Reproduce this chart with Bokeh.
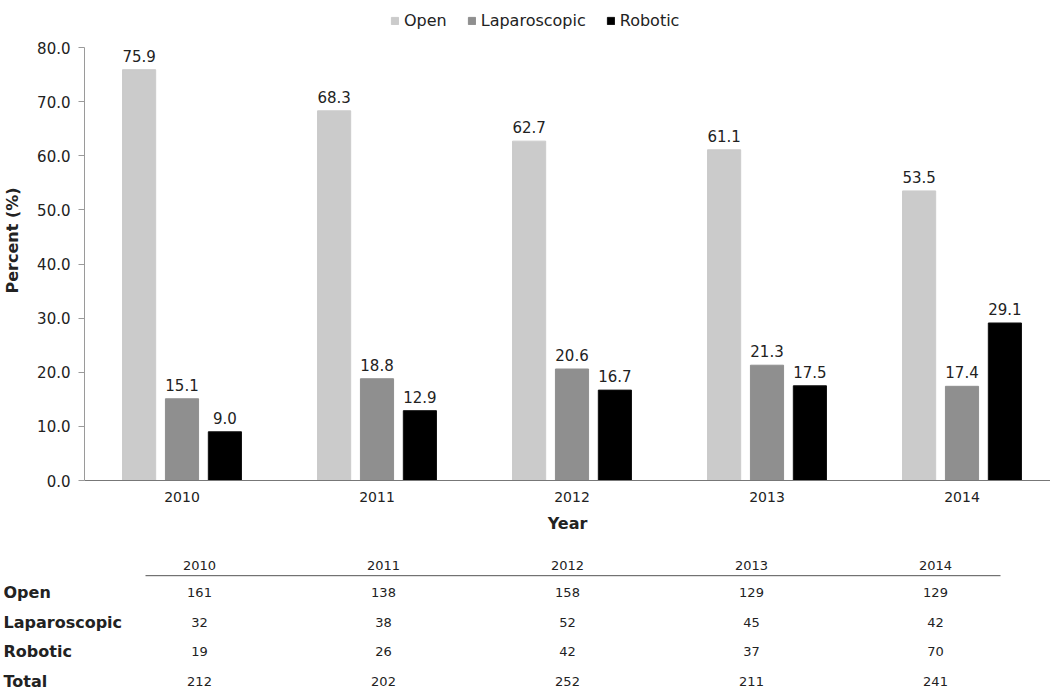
from bokeh.plotting import figure
from bokeh.models import (Range1d, FixedTicker, PrintfTickFormatter, SingleIntervalTicker,
                          Legend, LegendItem, ColumnDataSource)
from bokeh.embed import file_html
from bokeh.resources import INLINE
from bokeh.core.properties import value

# ---- data ----
years = [2010, 2011, 2012, 2013, 2014]
series = ["Open", "Laparoscopic", "Robotic"]
open_pct = [75.9, 68.3, 62.7, 61.1, 53.5]
lap_pct = [15.1, 18.8, 20.6, 21.3, 17.4]
rob_pct = [9.0, 12.9, 16.7, 17.5, 29.1]
open_n = [161, 138, 158, 129, 129]
lap_n = [32, 38, 52, 45, 42]
rob_n = [19, 26, 42, 37, 70]
total_n = [212, 202, 252, 211, 241]
row_labels = ["Open", "Laparoscopic", "Robotic", "Total"]

colors = ["#cbcbcb", "#8f8f8f", "#000000"]
FONT = "DejaVu Sans"
TXT = "#222222"
W = 1050
LEFT = 84
FW = W - LEFT
FH = 480
CAT_PX = 195.0
PX_PER_UNIT = 433.0 / 80.0

p = figure(frame_width=FW, frame_height=FH,
           x_range=Range1d(years[0] - 0.5, years[0] - 0.5 + FW / CAT_PX),
           y_range=Range1d(0, FH / PX_PER_UNIT),
           output_backend="svg", toolbar_location=None,
           min_border_left=LEFT, min_border_right=0, min_border_top=0, min_border_bottom=50)
p.outline_line_color = None
p.xgrid.visible = False
p.ygrid.visible = False

offsets = [-0.22, 0.0, 0.22]
all_pct = [open_pct, lap_pct, rob_pct]
items = []
for name, vals, off, col in zip(series, all_pct, offsets, colors):
    src = ColumnDataSource(dict(x=[y + off for y in years], top=vals,
                                lab=["%.1f" % v for v in vals]))
    r = p.vbar(x="x", top="top", width=0.17, source=src, fill_color=col,
               line_color=col if col != "#000000" else "#111111", line_width=1)
    p.text(x="x", y="top", text="lab", source=src, text_align="center",
           text_baseline="bottom", y_offset=-8, text_font=value(FONT),
           text_font_size="15px", text_color=TXT)
    items.append(LegendItem(label=name, renderers=[r]))

legend = Legend(items=items, orientation="horizontal", location=(306, FH - 30),
                label_text_font=FONT, label_text_font_size="16px",
                label_text_color=TXT, glyph_width=9, glyph_height=9,
                label_standoff=5, spacing=20, padding=0, margin=0,
                border_line_color=None, background_fill_alpha=0)
p.add_layout(legend)

p.yaxis.bounds = (0, 80)
p.yaxis.ticker = SingleIntervalTicker(interval=10)
p.yaxis.formatter = PrintfTickFormatter(format="%.1f")
p.yaxis.axis_label = "Percent (%)"
p.yaxis.axis_label_text_font = FONT
p.yaxis.axis_label_text_font_style = "bold"
p.yaxis.axis_label_text_font_size = "16px"
p.yaxis.axis_label_text_color = TXT
p.yaxis.axis_label_standoff = 12
p.yaxis.major_label_text_font = FONT
p.yaxis.major_label_text_font_size = "15px"
p.yaxis.major_label_text_color = TXT
p.yaxis.major_label_standoff = 8
p.yaxis.axis_line_color = "#9a9a9a"
p.yaxis.major_tick_line_color = "#9a9a9a"
p.yaxis.major_tick_out = 6
p.yaxis.major_tick_in = 0
p.yaxis.minor_tick_line_color = None

p.xaxis.ticker = FixedTicker(ticks=years)
p.xaxis.axis_label = "Year"
p.xaxis.axis_label_text_font = FONT
p.xaxis.axis_label_text_font_style = "bold"
p.xaxis.axis_label_text_font_size = "16px"
p.xaxis.axis_label_text_color = TXT
p.xaxis.axis_label_standoff = 9
p.xaxis.major_label_text_font = FONT
p.xaxis.major_label_text_font_size = "14px"
p.xaxis.major_label_text_color = TXT
p.xaxis.axis_line_color = "#777777"
p.xaxis.major_tick_line_color = None
p.xaxis.minor_tick_line_color = None
p.xaxis.major_label_standoff = 5

# ---- table ----
COL_PX = 184.0
COL0 = 199.0
XS = -COL0 / COL_PX
ROW_PX = 29.5
TH = 155
TOP = 1 - 57.0 / ROW_PX
t = figure(width=W, height=TH,
           x_range=Range1d(XS, XS + W / COL_PX),
           y_range=Range1d(TOP + TH / ROW_PX, TOP),
           output_backend="svg", toolbar_location=None,
           x_axis_type=None, y_axis_type=None,
           min_border_left=0, min_border_right=0, min_border_top=0, min_border_bottom=0)
t.outline_line_color = None
t.xgrid.visible = False
t.ygrid.visible = False

idx = list(range(len(years)))
t.text(x=idx, y=[0.08] * len(years), text=[str(y) for y in years],
       text_align="center", text_baseline="middle", text_font=value(FONT),
       text_font_size="13px", text_color=TXT)
t.segment(x0=[-54.0 / COL_PX], y0=[0.43], x1=[len(years) - 1 + 65.0 / COL_PX], y1=[0.43],
          line_color="#555555", line_width=1)
rows = [open_n, lap_n, rob_n, total_n]
for ri, (lab, vals) in enumerate(zip(row_labels, rows)):
    t.text(x=idx, y=[ri + 1] * len(vals), text=[str(v) for v in vals],
           text_align="center", text_baseline="middle", text_font=value(FONT),
           text_font_size="13px", text_color=TXT)
t.text(x=[XS + 3.0 / COL_PX] * len(row_labels), y=[i + 1 for i in range(len(row_labels))],
       text=row_labels, text_align="left", text_baseline="middle",
       text_font=value(FONT), text_font_style="bold", text_font_size="16px",
       text_color=TXT)

open("out.html", "w").write(file_html([p, t], INLINE))
